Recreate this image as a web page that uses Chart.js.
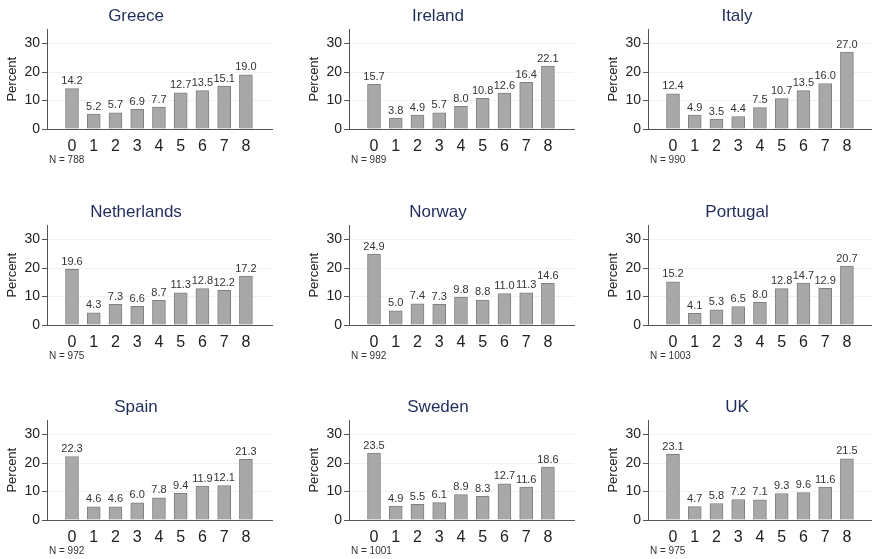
<!DOCTYPE html>
<html>
<head>
<meta charset="utf-8">
<script src="https://cdn.jsdelivr.net/npm/chart.js@4.4.1/dist/chart.umd.min.js"></script>
<style>
  html, body { margin: 0; padding: 0; background: #fff; overflow: hidden; }
  body { width: 872px; height: 559px; position: relative; }
  .panel { position: absolute; width: 300px; height: 196px; }
</style>
</head>
<body>
<script>
// categories (number of items) and per-country percentages
const categories = [0, 1, 2, 3, 4, 5, 6, 7, 8];
const countries = ['Greece', 'Ireland', 'Italy', 'Netherlands', 'Norway', 'Portugal', 'Spain', 'Sweden', 'UK'];
const sampleSizes = [788, 989, 990, 975, 992, 1003, 992, 1001, 975];
const greece      = [14.2, 5.2, 5.7, 6.9, 7.7, 12.7, 13.5, 15.1, 19.0];
const ireland     = [15.7, 3.8, 4.9, 5.7, 8.0, 10.8, 12.6, 16.4, 22.1];
const italy       = [12.4, 4.9, 3.5, 4.4, 7.5, 10.7, 13.5, 16.0, 27.0];
const netherlands = [19.6, 4.3, 7.3, 6.6, 8.7, 11.3, 12.8, 12.2, 17.2];
const norway      = [24.9, 5.0, 7.4, 7.3, 9.8, 8.8, 11.0, 11.3, 14.6];
const portugal    = [15.2, 4.1, 5.3, 6.5, 8.0, 12.8, 14.7, 12.9, 20.7];
const spain       = [22.3, 4.6, 4.6, 6.0, 7.8, 9.4, 11.9, 12.1, 21.3];
const sweden      = [23.5, 4.9, 5.5, 6.1, 8.9, 8.3, 12.7, 11.6, 18.6];
const uk          = [23.1, 4.7, 5.8, 7.2, 7.1, 9.3, 9.6, 11.6, 21.5];
const yTicks = [0, 10, 20, 30];

const seriesList = [greece, ireland, italy, netherlands, norway, portugal, spain, sweden, uk];

const FONT = "'Liberation Sans', Arial, sans-serif";
const colLeft = [0, 302, 601];
const rowTop = [0, 195.7, 391.3];

// value labels above bars + "N = ..." note
const barLabels = {
  id: 'barLabels',
  afterDatasetsDraw(chart, args, opts) {
    const ctx = chart.ctx;
    const meta = chart.getDatasetMeta(0);
    const values = chart.data.datasets[0].data;
    ctx.save();
    ctx.font = '11px ' + FONT;
    ctx.fillStyle = '#333';
    ctx.textAlign = 'center';
    ctx.textBaseline = 'bottom';
    meta.data.forEach((bar, i) => {
      ctx.fillText(values[i].y.toFixed(1), bar.x, bar.y - 2);
    });
    ctx.font = '10px ' + FONT;
    ctx.textAlign = 'left';
    ctx.textBaseline = 'middle';
    ctx.fillText('N = ' + opts.n, chart.chartArea.left + 2, chart.chartArea.bottom + 31);
    ctx.restore();
  }
};

countries.forEach((name, k) => {
  const div = document.createElement('div');
  div.className = 'panel';
  div.style.left = colLeft[k % 3] + 'px';
  div.style.top = rowTop[Math.floor(k / 3)] + 'px';
  const canvas = document.createElement('canvas');
  div.appendChild(canvas);
  document.body.appendChild(div);

  const values = seriesList[k];
  new Chart(canvas.getContext('2d'), {
    type: 'bar',
    data: {
      datasets: [{
        data: categories.map((c, i) => ({ x: c, y: values[i] })),
        backgroundColor: '#a8a8a8',
        borderColor: '#808080',
        borderWidth: 1,
        barThickness: 13
      }]
    },
    options: {
      responsive: true,
      maintainAspectRatio: false,
      animation: false,
      layout: { padding: { top: 0, right: 28, bottom: 0, left: 0 } },
      plugins: {
        legend: { display: false },
        tooltip: { enabled: false },
        title: {
          display: true,
          text: name,
          color: '#1f2d5a',
          font: { family: FONT, size: 17, weight: 'normal' },
          padding: { top: 6, bottom: 3 }
        },
        barLabels: { n: sampleSizes[k] }
      },
      scales: {
        x: {
          type: 'linear',
          offset: false,
          min: -1.15,
          max: 9.2,
          afterBuildTicks: (s) => { s.ticks = categories.map(v => ({ value: v })); },
          afterFit: (s) => { s.height = 67; },
          grid: { display: false, drawTicks: false },
          border: { display: true, color: '#555', width: 1 },
          ticks: { color: '#222', font: { family: FONT, size: 16 }, padding: 8, autoSkip: false, maxRotation: 0 }
        },
        y: {
          min: 0,
          max: 35,
          afterBuildTicks: (s) => { s.ticks = yTicks.map(v => ({ value: v })); },
          afterFit: (s) => { s.width = 47; },
          grid: { color: '#eef2f6', lineWidth: 1, drawTicks: true, tickLength: 5, tickColor: '#555' },
          border: { display: true, color: '#555', width: 1 },
          ticks: { color: '#222', font: { family: FONT, size: 14 }, padding: 2 },
          title: {
            display: true,
            text: 'Percent',
            color: '#222',
            font: { family: FONT, size: 13 },
            padding: { top: 5, bottom: 0 }
          }
        }
      }
    },
    plugins: [barLabels]
  });
});
</script>
</body>
</html>
